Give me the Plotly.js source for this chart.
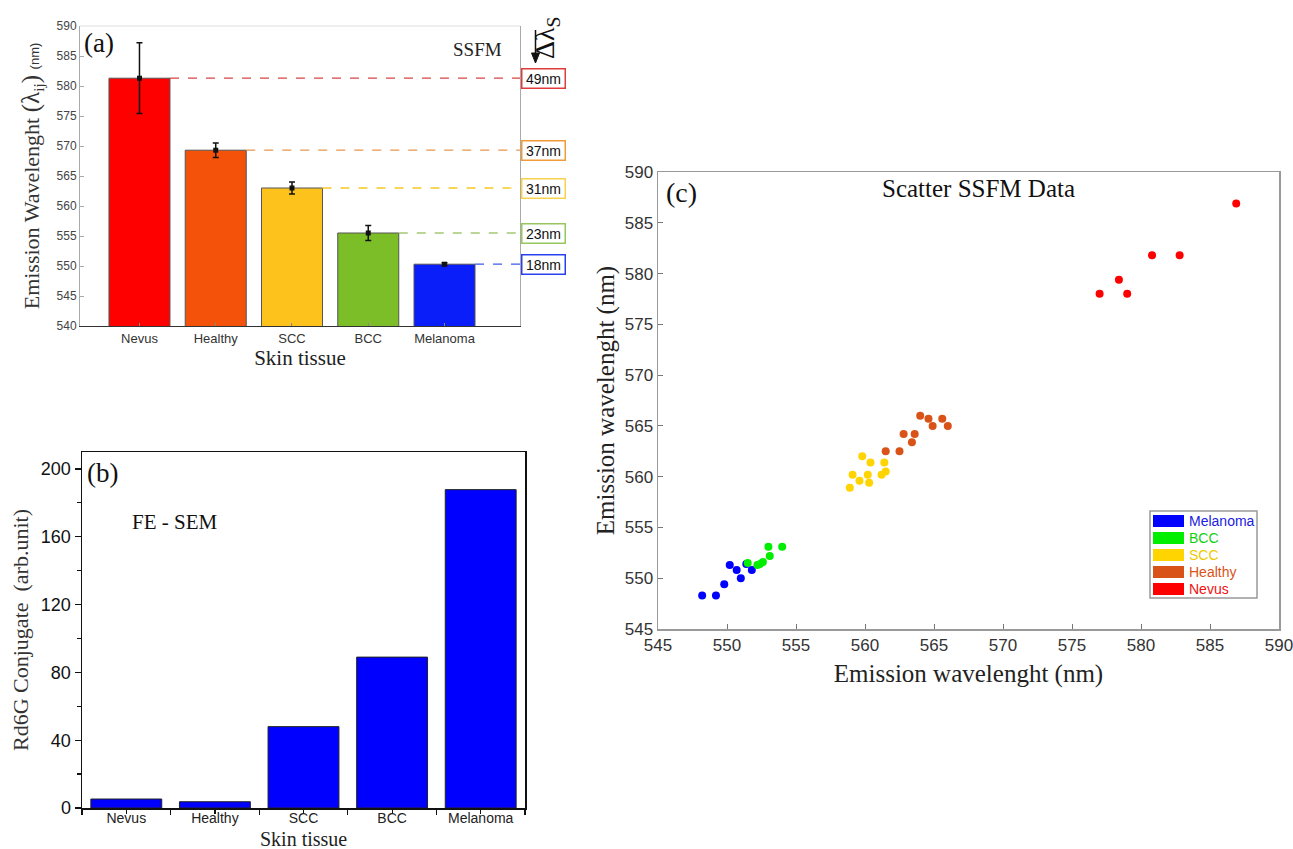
<!DOCTYPE html>
<html>
<head>
<meta charset="utf-8">
<script src="https://cdn.plot.ly/plotly-3.0.1.min.js"></script>
<style>html,body{margin:0;padding:0;background:#fff;}#chart{width:1293px;height:849px;}</style>
</head>
<body>
<div id="chart"></div>
<script>
// ---------- DATA ----------
const tissues = ['Nevus', 'Healthy', 'SCC', 'BCC', 'Melanoma'];
// (a) SSFM mean emission wavelength (nm) and error
const ssfmMean = [581.3, 569.3, 563.0, 555.5, 550.3];
const ssfmErr = [5.9, 1.2, 1.0, 1.25, 0.25];
const deltaLabels = ['49nm', '37nm', '31nm', '23nm', '18nm'];
// (b) FE-SEM Rd6G conjugate (arb. unit)
const feSem = [5.3, 3.7, 48.0, 89.0, 187.8];
// (c) scatter SSFM data
const melanomaX = [548.2, 549.2, 549.8, 551.0, 550.7, 551.8, 550.2, 551.4];
const melanomaY = [548.3, 548.3, 549.4, 550.0, 550.8, 550.8, 551.3, 551.4];
const bccX = [551.5, 552.2, 552.4, 552.6, 553.1, 553.0, 554.0];
const bccY = [551.5, 551.3, 551.4, 551.6, 552.2, 553.1, 553.1];
const sccX = [559.8, 560.4, 561.4, 559.1, 560.2, 561.2, 561.5, 559.6, 560.3, 558.9];
const sccY = [562.0, 561.4, 561.4, 560.2, 560.2, 560.2, 560.5, 559.6, 559.4, 558.9];
const healthyX = [564.0, 564.6, 565.6, 564.9, 566.0, 562.8, 563.6, 563.4, 561.5, 562.5];
const healthyY = [566.0, 565.7, 565.7, 565.0, 565.0, 564.2, 564.2, 563.4, 562.5, 562.5];
const nevusX = [586.9, 580.8, 582.8, 578.4, 577.0, 579.0];
const nevusY = [586.9, 581.8, 581.8, 579.4, 578.0, 578.0];
const legendNames = ['Melanoma', 'BCC', 'SCC', 'Healthy', 'Nevus'];

// ---------- STYLE ----------
const W = 1293, H = 849;
const px = v => v / W;
const py = v => 1 - v / H;
const SERIF = 'Liberation Serif, Times New Roman, serif';
const SANS = 'Liberation Sans, Arial, sans-serif';
const barColorsA = ['#FF0000', '#F4520B', '#FDC21C', '#7CBE27', '#0A1EFA'];
const dashColorsA = ['#D94545', '#E8964F', '#F6C924', '#A4C873', '#3C5CE8'];
const boxColorsA = ['#E03A3A', '#F09A3C', '#F8D24C', '#96C65C', '#2A40F0'];
const scatterColors = ['#0000FF', '#00EE00', '#FFD400', '#D95319', '#FF0000'];
const legendTextColors = ['#2020E0', '#10D010', '#F0C800', '#D95319', '#F01010'];
const idx = tissues.map((_, i) => i);
const xRangeA = [-0.78, 4.99];

function label(x, y, text, font, extra) {
  return Object.assign({xref: 'paper', yref: 'paper', x: px(x), y: py(y), xanchor: 'center', yanchor: 'middle',
    text: text, showarrow: false, font: font}, extra || {});
}

// ---------- TRACES ----------
const traces = [];
traces.push({
  type: 'bar', x: idx, y: ssfmMean, width: 0.8, xaxis: 'x', yaxis: 'y',
  marker: {color: barColorsA, line: {color: '#555', width: 1}}
});
traces.push({
  type: 'scatter', mode: 'markers', x: idx, y: ssfmMean, xaxis: 'x', yaxis: 'y',
  marker: {symbol: 'square', size: 5, color: '#111'},
  error_y: {type: 'data', array: ssfmErr, visible: true, color: '#111', thickness: 1.5, width: 3}
});
traces.push({
  type: 'bar', x: idx, y: feSem, width: 0.8, xaxis: 'x2', yaxis: 'y2',
  marker: {color: '#0000FF', line: {color: '#222', width: 1}}
});
const scatterSets = [[melanomaX, melanomaY], [bccX, bccY], [sccX, sccY], [healthyX, healthyY], [nevusX, nevusY]];
scatterSets.forEach((s, i) => {
  traces.push({
    type: 'scatter', mode: 'markers', name: legendNames[i], x: s[0], y: s[1], xaxis: 'x3', yaxis: 'y3',
    marker: {size: 8, color: scatterColors[i]}
  });
});

// ---------- SHAPES & ANNOTATIONS ----------
const shapes = [];
const annotations = [];
// (a) dashed guide lines and delta boxes
ssfmMean.forEach((v, i) => {
  shapes.push({type: 'line', xref: 'x', yref: 'y', x0: i + 0.4, x1: xRangeA[1], y0: v, y1: v,
    line: {color: dashColorsA[i], width: 1.3, dash: 'dash'}});
  annotations.push({xref: 'paper', yref: 'y', x: px(521), y: v, xanchor: 'left', yanchor: 'middle',
    text: deltaLabels[i], showarrow: false, font: {family: SANS, size: 14, color: '#111'},
    bgcolor: '#fff', bordercolor: boxColorsA[i], borderwidth: 1.5, borderpad: 1, width: 40, height: 16});
});
// (a) faint top frame line
shapes.push({type: 'line', xref: 'paper', yref: 'paper', x0: px(80), x1: px(520), y0: py(26), y1: py(26),
  line: {color: '#dddddd', width: 1}});
annotations.push(label(99, 43, '(a)', {family: SERIF, size: 27, color: '#111'}));
annotations.push(label(478, 50, 'SSFM', {family: SERIF, size: 19, color: '#222'}));
annotations.push(label(547, 38, 'Δλ<sub>S</sub>', {family: SERIF, size: 28, color: '#111'}, {textangle: -90}));
// (a) downward arrow
shapes.push({type: 'line', xref: 'paper', yref: 'paper', x0: px(535.5), x1: px(535.5), y0: py(30), y1: py(58),
  line: {color: '#111', width: 1.5}});
shapes.push({type: 'path', xref: 'paper', yref: 'paper',
  path: 'M ' + px(531.5) + ' ' + py(53) + ' L ' + px(539.5) + ' ' + py(53) + ' L ' + px(535.5) + ' ' + py(63) + ' Z',
  fillcolor: '#111', line: {color: '#111', width: 1}});
// (b) labels
annotations.push(label(102, 473, '(b)', {family: SERIF, size: 27, color: '#111'}));
annotations.push(label(175, 522, 'FE - SEM', {family: SERIF, size: 21, color: '#111'}));
annotations.push(label(303, 838.5, 'Skin tissue', {family: SERIF, size: 20, color: '#222'}));
// (c) labels
annotations.push(label(681, 192, '(c)', {family: SERIF, size: 28, color: '#111'}));
annotations.push(label(978, 188, 'Scatter SSFM Data', {family: SERIF, size: 25, color: '#111'}));
// (c) legend box
shapes.push({type: 'rect', xref: 'paper', yref: 'paper', x0: px(1150), x1: px(1257), y0: py(511), y1: py(598),
  line: {color: '#999', width: 1.5}, fillcolor: '#fff', layer: 'above'});
legendNames.forEach((n, i) => {
  const cy = 521 + i * 17;
  shapes.push({type: 'rect', xref: 'paper', yref: 'paper', x0: px(1153), x1: px(1184), y0: py(cy - 6), y1: py(cy + 6),
    line: {width: 0}, fillcolor: scatterColors[i], layer: 'above'});
  annotations.push(label(1187, cy, n, {family: SANS, size: 14, color: legendTextColors[i]}, {xanchor: 'left'}));
});

// ---------- LAYOUT ----------
const layout = {
  width: W, height: H, margin: {l: 0, r: 0, t: 0, b: 0},
  paper_bgcolor: '#fff', plot_bgcolor: 'rgba(0,0,0,0)', showlegend: false,
  xaxis: {
    domain: [px(80), px(520)], anchor: 'y', range: xRangeA, tickmode: 'array', tickvals: idx, ticktext: tissues,
    ticks: 'inside', ticklen: 3, tickcolor: '#888', showline: true, linecolor: '#333', linewidth: 1.2,
    showgrid: false, zeroline: false, tickfont: {family: SANS, size: 13, color: '#333'},
    title: {text: 'Skin tissue', font: {family: SERIF, size: 21, color: '#222'}, standoff: 2}
  },
  yaxis: {
    domain: [py(326), py(26)], anchor: 'x', range: [540, 590], dtick: 5,
    ticks: 'inside', ticklen: 4, tickcolor: '#aaa', showline: true, linecolor: '#aaa', linewidth: 1, mirror: true,
    showgrid: false, zeroline: false, tickfont: {family: SANS, size: 12, color: '#444'},
    title: {text: 'Emission Wavelenght <span style="font-size:25px">(λ</span><sub>ij</sub><span style="font-size:25px">)</span> <span style="font-family:Liberation Sans, Arial;font-size:13px">(nm)</span>',
      font: {family: SERIF, size: 22, color: '#333'}, standoff: 10}
  },
  xaxis2: {
    domain: [px(82), px(525)], anchor: 'y2', range: [-0.5, 4.5], tickmode: 'array', tickvals: idx, ticktext: tissues,
    ticks: 'outside', ticklen: 4, tickcolor: '#111', tickwidth: 1.2, ticklabelstandoff: -7,
    minor: {tick0: 0.5, dtick: 1, ticks: 'outside', ticklen: 5, tickcolor: '#111', tickwidth: 1.2},
    showline: true, linecolor: '#111', linewidth: 1.5, mirror: true,
    showgrid: false, zeroline: false, tickfont: {family: SANS, size: 14, color: '#222'}
  },
  yaxis2: {
    domain: [py(808), py(452)], anchor: 'x2', range: [0, 210], tick0: 0, dtick: 40,
    ticks: 'outside', ticklen: 6, tickcolor: '#111', tickwidth: 1.2,
    minor: {dtick: 20, ticks: 'outside', ticklen: 4, tickcolor: '#111', tickwidth: 1.2},
    showline: true, linecolor: '#111', linewidth: 1.5, mirror: true,
    showgrid: false, zeroline: false, tickfont: {family: SANS, size: 18, color: '#111'},
    title: {text: 'Rd6G Conjugate  (arb.unit)', font: {family: SERIF, size: 22, color: '#333'}, standoff: 6}
  },
  xaxis3: {
    domain: [px(658), px(1279)], anchor: 'y3', range: [545, 590], dtick: 5, ticklabeloverflow: 'allow',
    ticks: 'inside', ticklen: 5, tickcolor: '#777', showline: true, linecolor: '#999', linewidth: 1.5, mirror: true,
    showgrid: false, zeroline: false, tickfont: {family: SANS, size: 17, color: '#333'},
    title: {text: 'Emission wavelenght (nm)', font: {family: SERIF, size: 25, color: '#222'}, standoff: 10}
  },
  yaxis3: {
    domain: [py(629), py(172)], anchor: 'x3', range: [545, 590], dtick: 5,
    ticks: 'inside', ticklen: 5, tickcolor: '#777', showline: true, linecolor: '#999', linewidth: 1.5, mirror: true,
    showgrid: false, zeroline: false, tickfont: {family: SANS, size: 17, color: '#333'},
    title: {text: 'Emission wavelenght (nm)', font: {family: SERIF, size: 25, color: '#222'}, standoff: 3}
  },
  shapes: shapes,
  annotations: annotations
};

Plotly.newPlot('chart', traces, layout, {staticPlot: true, displayModeBar: false});
</script>
</body>
</html>
